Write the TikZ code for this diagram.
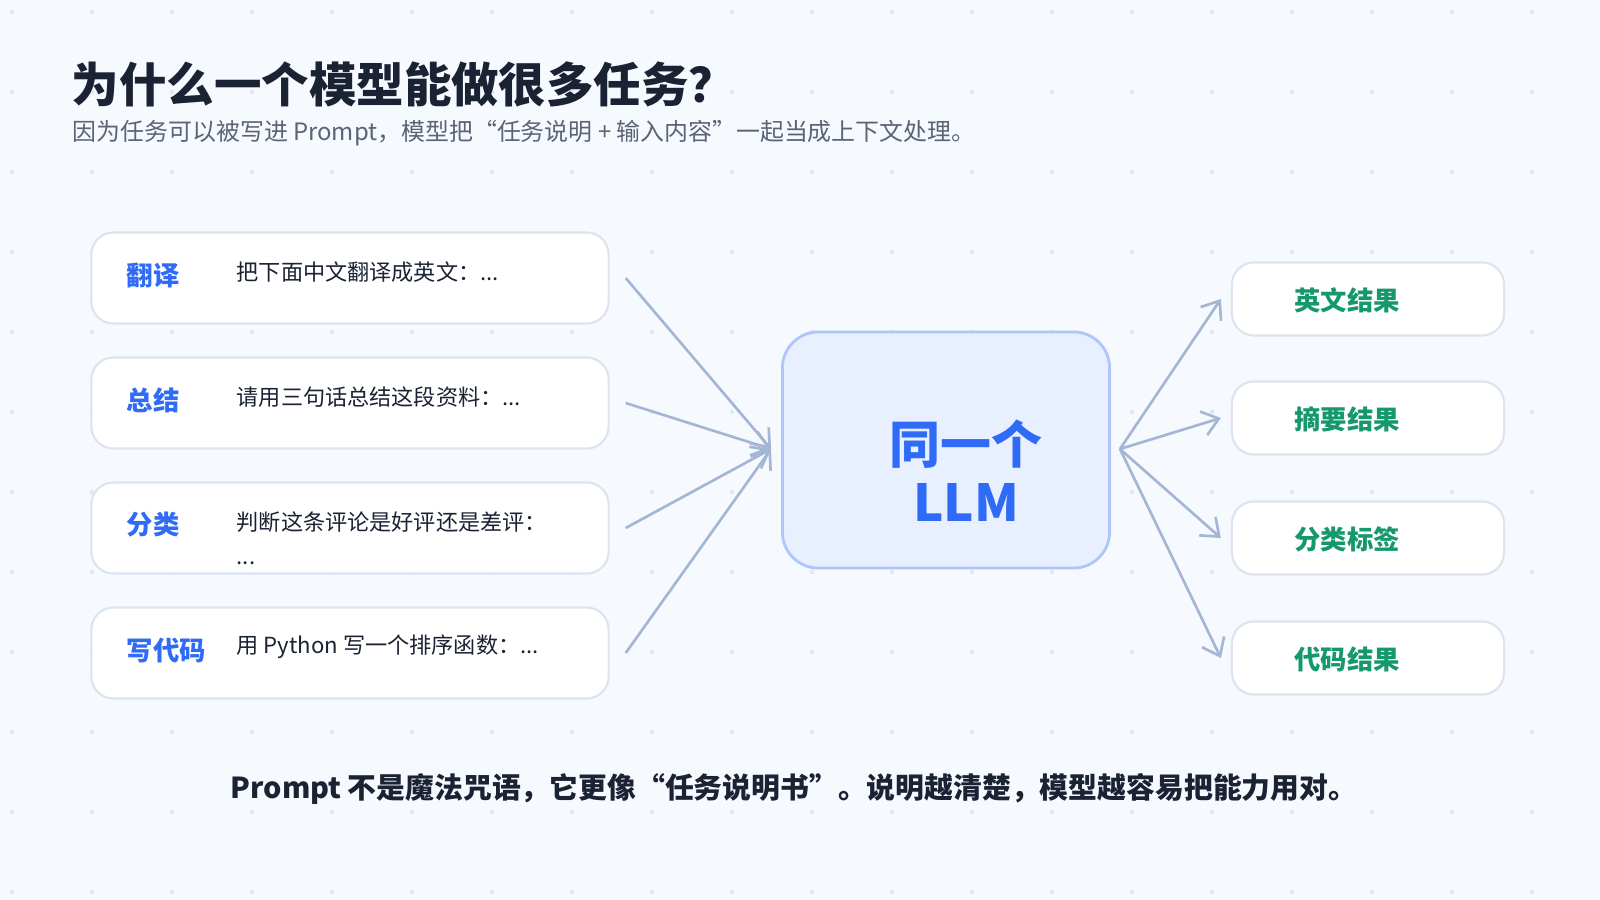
\documentclass[tikz,border=0pt]{standalone}
\usepackage{fontspec}
\setmainfont{Noto Sans CJK SC}
\usetikzlibrary{arrows.meta,positioning}
\newcommand\ellip{...}
\definecolor{bgcol}{HTML}{F6F9FE}
\definecolor{dotcol}{HTML}{E2E8F1}
\definecolor{titlecol}{HTML}{1A2233}
\definecolor{subcol}{HTML}{5A6475}
\definecolor{taskblue}{HTML}{2F6BF6}
\definecolor{resgreen}{HTML}{15996A}
\definecolor{boxline}{HTML}{DCE4F0}
\definecolor{llmfill}{HTML}{E8EFFE}
\definecolor{llmline}{HTML}{AFC6FA}
\definecolor{arrowcol}{HTML}{A3B6D3}
\tikzset{taskbox/.style={draw=boxline,line width=0.6pt,fill=white,rounded corners=0.22cm,minimum width=5.17cm,minimum height=0.91cm},
         resbox/.style={draw=boxline,line width=0.6pt,fill=white,rounded corners=0.22cm,minimum width=2.72cm,minimum height=0.73cm},
         tasklabel/.style={anchor=west,inner sep=0pt,text=taskblue,font=\fontsize{7.5}{9}\selectfont\bfseries},
         tasktext/.style={anchor=west,inner sep=0pt,text=titlecol,font=\fontsize{6.3}{9.8}\selectfont},
         restext/.style={text=resgreen,font=\fontsize{7.5}{9}\selectfont\bfseries},
         flow/.style={draw=arrowcol,line width=0.75pt,-{Straight Barb[length=4.5pt,width=7pt]}},
         }
\begin{document}
\begin{tikzpicture}[x=0.01cm,y=-0.01cm]
\fill[bgcol] (0,0) rectangle (1600,900);
\useasboundingbox (0,0) rectangle (1600,900);
\foreach \i in {0,...,19}
  \foreach \j in {0,...,11}
    \fill[dotcol] (12+80*\i,12+80*\j) circle (2.3);
% title
\node[anchor=base west,inner sep=0pt,text=titlecol,font=\fontsize{13.5}{16}\selectfont\bfseries] (title) at (71,102) {为什么一个模型能做很多任务？};
\node[anchor=base west,inner sep=0pt,text=subcol,font=\fontsize{6.8}{8}\selectfont] (subtitle) at (72,140) {因为任务可以被写进 Prompt，模型把“任务说明 + 输入内容”一起当成上下文处理。};
% tasks
\foreach \n/\y/\lab/\txt in {fy/278/翻译/把下面中文翻译成英文：\ellip,zj/403/总结/请用三句话总结这段资料：\ellip,dm/653/写代码/用 Python 写一个排序函数：\ellip}{
  \node[taskbox] (\n) at (350,\y) {};
  \node[tasklabel] at (126,\y-3) {\lab};
  \node[tasktext] at (236,\y-6) {\txt};
}
\node[taskbox] (fl) at (350,528) {};
\node[tasklabel] at (126,525) {分类};
\node[tasktext,anchor=north west,align=left] at (236,511) {判断这条评论是好评还是差评：\\\ellip};
% llm
\node[draw=llmline,line width=0.8pt,fill=llmfill,rounded corners=0.36cm,minimum width=3.27cm,minimum height=2.36cm] (llm) at (946,450) {};
\node[text=taskblue,font=\fontsize{14.5}{16.5}\selectfont\bfseries,align=center] (llmtext) at (966,471) {同一个\\LLM};
\coordinate (in) at (771,449);
\coordinate (out) at (1120,449);
\foreach \n in {fy,zj,fl,dm}
  \draw[flow] (\n.east) ++(16,0) -- (in);
% results
\foreach \n/\y/\txt in {yw/299/英文结果,zy/418/摘要结果,bq/538/分类标签,jg/658/代码结果}{
  \node[resbox] (\n) at (1368,\y) {};
  \node[restext] at (1347,\y+1) {\txt};
  \draw[flow] (out) -- ([xshift=-0.1cm]\n.west);
}
% bottom
\node[anchor=base,text=titlecol,font=\fontsize{8.2}{10}\selectfont\bfseries] (note) at (794,798) {Prompt 不是魔法咒语，它更像“任务说明书”。说明越清楚，模型越容易把能力用对。};
\end{tikzpicture}
\end{document}
